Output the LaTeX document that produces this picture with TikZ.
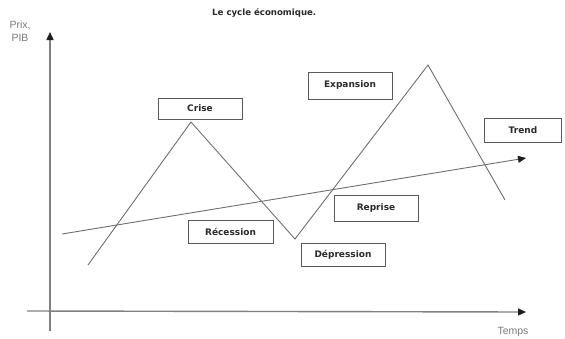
\documentclass[tikz,border=0pt]{standalone}
\usepackage{fontspec}
\setmainfont{Liberation Sans}
\newfontfamily\boxfont{DejaVu Sans}
\usetikzlibrary{arrows.meta}
\definecolor{axisgray}{HTML}{808080}
\definecolor{linegray}{HTML}{6E6E6E}
\definecolor{boxgray}{HTML}{5A5A5A}
\definecolor{labgray}{HTML}{7A7A7A}
\definecolor{textdark}{HTML}{2A2A2A}
\definecolor{tipdark}{HTML}{1E1E1E}
\tikzset{
  phasebox/.style={draw=boxgray, line width=1pt, fill=white, inner sep=0pt,
    minimum width=84pt, minimum height=23pt,
    font=\boxfont\bfseries\fontsize{9}{10}\selectfont, text=textdark},
  axisline/.style={draw=axisgray, line width=1.4pt},
  cycleline/.style={draw=linegray, line width=0.9pt},
  tip/.style={-{Triangle[length=8pt,width=7pt,color=tipdark]}},
  axlabel/.style={font=\fontsize{10.5}{13}\selectfont, text=labgray, align=center, inner sep=0pt}
}
\begin{document}
\begin{tikzpicture}[x=1pt,y=-1pt]
\useasboundingbox (0,0) rectangle (565,338);
% title
\node[font=\boxfont\bfseries\fontsize{8.6}{10}\selectfont, text=textdark, anchor=west, inner sep=0pt] (title) at (212,13) {Le cycle économique.};
% axes
\coordinate (yb) at (50,331);
\coordinate (yt) at (50,32);
\coordinate (xl) at (27,311);
\coordinate (xr) at (526,312);
\draw[axisline, tip] (yb) -- (yt);
\draw[axisline, tip] (xl) -- (xr);
\node[axlabel] (ylab) at (20,31) {Prix,\\PIB};
\node[axlabel] (xlab) at (513,332) {Temps};
% cycle
\coordinate (c0) at (88,265);
\coordinate (c1) at (191,122);
\coordinate (c2) at (295,239);
\coordinate (c3) at (428,65);
\coordinate (c4) at (505,200);
\draw[cycleline, line join=miter] (c0) -- (c1) -- (c2) -- (c3) -- (c4);
% trend
\coordinate (t0) at (62,234);
\coordinate (t1) at (526,158);
\draw[cycleline, tip] (t0) -- (t1);
% boxes
\node[phasebox, minimum height=21pt] (crise) at (200,108.5) {Crise};
\node[phasebox, minimum height=27pt] (expansion) at (350,85.5) {Expansion};
\node[phasebox, minimum height=26pt] (reprise) at (376,208) {Reprise};
\node[phasebox, minimum width=85pt] (recession) at (230.5,231.5) {Récession};
\node[phasebox] (depression) at (343,254.5) {Dépression};
\node[phasebox, minimum width=77pt, minimum height=24pt] (trend) at (523,130) {Trend};
\end{tikzpicture}
\end{document}
